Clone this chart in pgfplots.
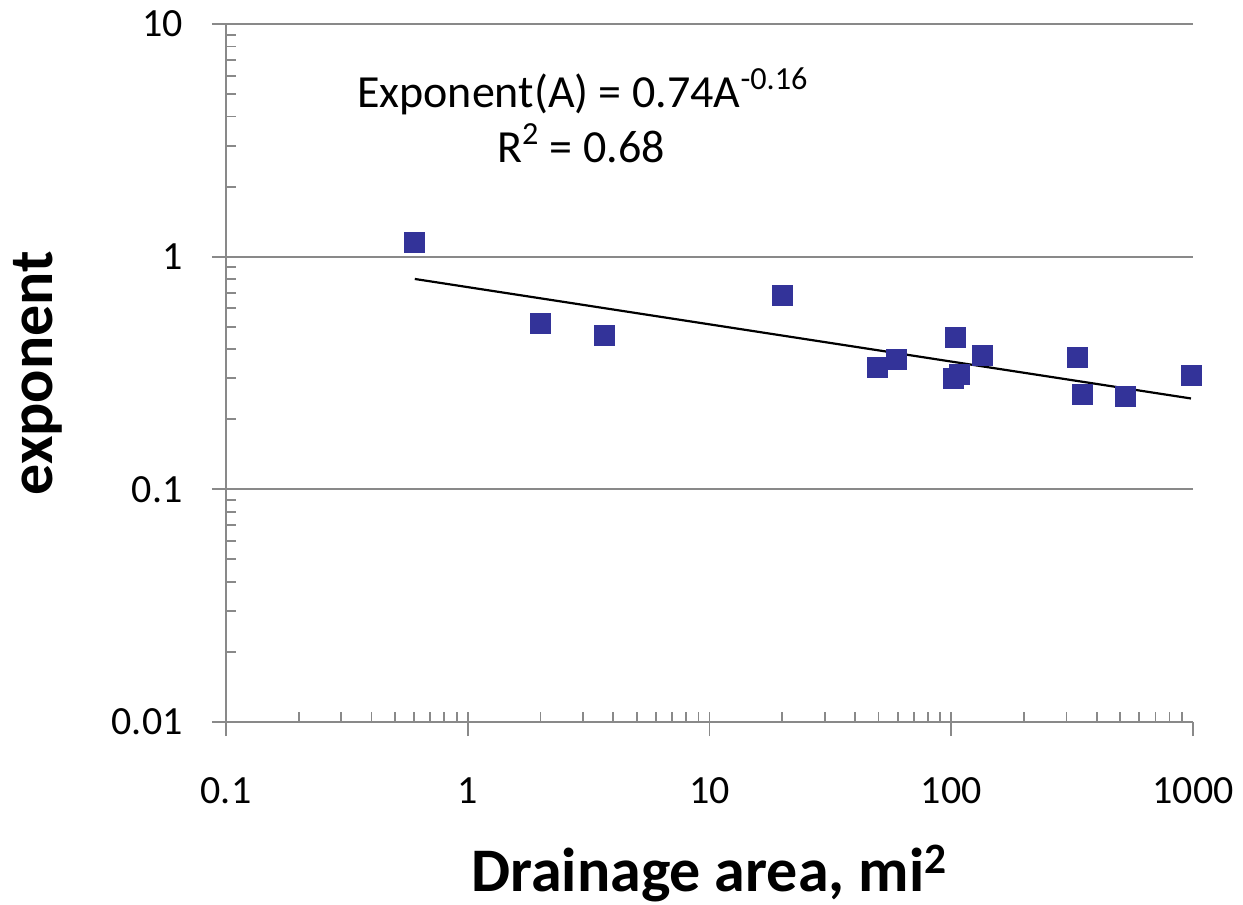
\documentclass[border=0pt]{standalone}
\usepackage{fontspec}
\setmainfont{Carlito}
\usepackage{pgfplots}
\pgfplotsset{compat=1.18}
\definecolor{axgray}{HTML}{898989}
\definecolor{ptblue}{HTML}{333399}
\begin{document}
\begin{tikzpicture}
\useasboundingbox (-113pt,-91.5pt) rectangle (508.5pt,361pt);
\begin{axis}[
    at={(0,0)}, anchor=south west,
    scale only axis, width=483.5pt, height=349pt,
    xmode=log, ymode=log,
    xmin=0.1, xmax=1000, ymin=0.01, ymax=10,
    axis x line*=bottom, axis y line*=left,
    axis line style={axgray, line width=1pt},
    xtick={0.1,1,10,100,1000}, xticklabels={0.1,1,10,100,1000},
    ytick={0.01,0.1,1,10}, yticklabels={0.01,0.1,1,10},
    tick style={axgray, line width=0.9pt},
    tick align=inside,
    major tick length=7pt, minor tick length=5pt,
    every major x tick/.append style={yshift=-7pt},
    every major y tick/.append style={xshift=-7pt},
    ymajorgrids, grid style={axgray, line width=1pt},
    ticklabel style={font=\fontsize{20}{24}\selectfont},
    xticklabel style={anchor=north, inner sep=0pt, yshift=-27.5pt},
    yticklabel style={anchor=east, inner sep=0pt, xshift=-21.5pt},
    xlabel={Drainage area, mi\textsuperscript{2}}, ylabel={exponent},
    label style={font=\fontsize{31}{36}\selectfont\bfseries, inner sep=0pt},
    xlabel style={at={(axis description cs:0.5,-0.243)}, anchor=base},
    ylabel style={at={(axis description cs:-0.1799,0.5)}, anchor=base},
    clip=false,
]
\addplot[only marks, mark=square*, mark size=5pt, color=ptblue] coordinates {
    (0.604,1.148) (2.0,0.516) (3.68,0.458) (20.0,0.680) (49.4,0.334)
    (59.3,0.361) (102,0.299) (104,0.449) (108,0.312) (134,0.376)
    (332,0.369) (348,0.256) (523,0.251) (982,0.309)
};
\addplot[black, line width=1.1pt, mark=none] coordinates {(0.604,0.802) (981,0.2458)};
\node[anchor=base, font=\fontsize{23}{28}\selectfont] at (axis description cs:0.369,0.881) {Exponent(A) = 0.74A\textsuperscript{-0.16}};
\node[anchor=base, font=\fontsize{23}{28}\selectfont] at (axis description cs:0.367,0.801) {R\textsuperscript{2} = 0.68};
\end{axis}
\end{tikzpicture}
\end{document}
